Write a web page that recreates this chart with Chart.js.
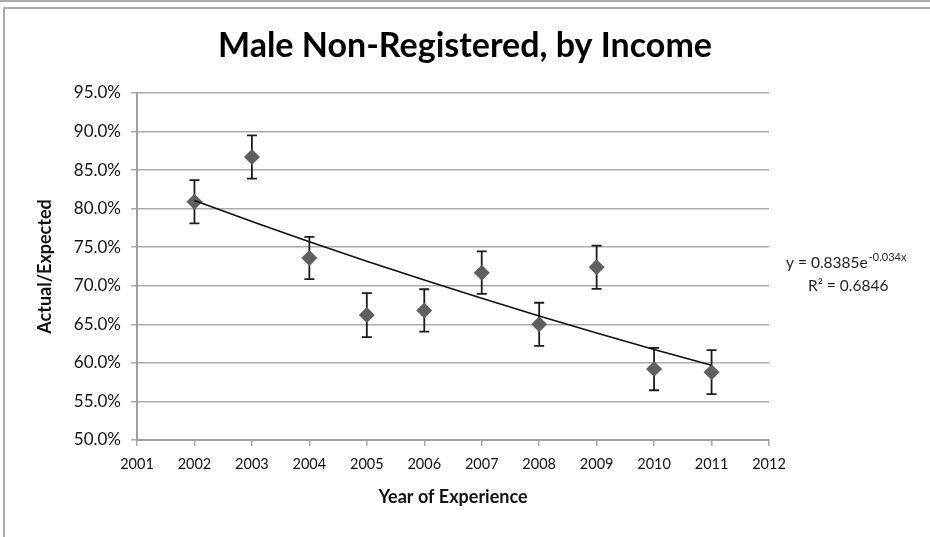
<!DOCTYPE html>
<html>
<head>
<meta charset="utf-8">
<script src="https://cdn.jsdelivr.net/npm/chart.js@4/dist/chart.umd.min.js"></script>
<style>
  html, body { margin: 0; padding: 0; background: #fff; width: 930px; height: 537px; overflow: hidden; }
  #wrap { position: relative; width: 930px; height: 537px; }
  #c { position: absolute; left: 0; top: 0; }
  .rule-top { position: absolute; left: 0; top: 0; width: 930px; height: 2px; background: #a9a9a9; }
  .frame { position: absolute; left: 3px; top: 7px; width: 940px; height: 540px;
           border-top: 2px solid #a9a9a9; border-left: 2px solid #a9a9a9; box-sizing: border-box; }
</style>
</head>
<body>
<div id="wrap">
  <canvas id="c" width="930" height="537"></canvas>
  <div class="rule-top"></div>
  <div class="frame"></div>
</div>
<script>
// Experience years and actual/expected ratios
const years = [2002, 2003, 2004, 2005, 2006, 2007, 2008, 2009, 2010, 2011];
const ratios = [0.809, 0.867, 0.736, 0.662, 0.668, 0.717, 0.650, 0.724, 0.592, 0.588];
// Half-width of each error bar (same units as ratios)
const errors = [0.028, 0.028, 0.0275, 0.0285, 0.0275, 0.0275, 0.028, 0.028, 0.0275, 0.0285];

// Exponential trendline y = a * e^(b * n), n = 1..10
const TREND_A = 0.8385;
const TREND_B = -0.034;
const TREND_R2 = 0.6846;

const xTickRange = [2001, 2012];
const yTickRange = [0.50, 0.95];
const yTickStep = 0.05;

const trendPoints = years.map((yr, i) => ({ x: yr, y: TREND_A * Math.exp(TREND_B * (i + 1)) }));
const points = years.map((yr, i) => ({ x: yr, y: ratios[i] }));

const FONT = 'Lato';

// Vertical error bars with caps, drawn beneath the markers
const errorBars = {
  id: 'errorBars',
  beforeDatasetsDraw(chart) {
    const { ctx, scales: { x, y } } = chart;
    ctx.save();
    ctx.strokeStyle = '#1c1c1c';
    ctx.lineWidth = 1.8;
    const cap = 5;
    years.forEach((yr, i) => {
      const px = x.getPixelForValue(yr);
      const top = y.getPixelForValue(ratios[i] + errors[i]);
      const bot = y.getPixelForValue(ratios[i] - errors[i]);
      ctx.beginPath();
      ctx.moveTo(px, top); ctx.lineTo(px, bot);
      ctx.moveTo(px - cap, top); ctx.lineTo(px + cap, top);
      ctx.moveTo(px - cap, bot); ctx.lineTo(px + cap, bot);
      ctx.stroke();
    });
    ctx.restore();
  }
};

// Trendline equation and R-squared to the right of the plot
const trendLabel = {
  id: 'trendLabel',
  afterDraw(chart) {
    const { ctx, chartArea } = chart;
    ctx.save();
    ctx.fillStyle = '#1f1f1f';
    ctx.textBaseline = 'alphabetic';
    ctx.textAlign = 'left';
    const x0 = chartArea.right + 17;
    const main = 'y = ' + TREND_A + 'e';
    ctx.font = '15.5px ' + FONT;
    ctx.fillText(main, x0, 268);
    const w = ctx.measureText(main).width;
    ctx.font = '11px ' + FONT;
    ctx.fillText(TREND_B.toFixed(3) + 'x', x0 + w + 1, 261);
    ctx.font = '15.5px ' + FONT;
    ctx.fillText('R\u00B2 = ' + TREND_R2, x0 + 22, 291);
    ctx.restore();
  }
};

function build() {
  new Chart(document.getElementById('c'), {
    type: 'scatter',
    data: {
      datasets: [
        {
          label: 'Trend',
          type: 'line',
          data: trendPoints,
          borderColor: '#111',
          borderWidth: 1.6,
          pointRadius: 0,
          fill: false,
          tension: 0,
          order: 0
        },
        {
          label: 'Actual/Expected',
          data: points,
          pointStyle: 'rectRot',
          pointRadius: 8,
          backgroundColor: '#5f5f5f',
          borderColor: '#5f5f5f',
          borderWidth: 0,
          order: 1
        }
      ]
    },
    options: {
      responsive: false,
      animation: false,
      layout: { padding: 0 },
      plugins: {
        legend: { display: false },
        tooltip: { enabled: false },
        title: {
          display: true,
          text: 'Male Non-Registered, by Income',
          color: '#000',
          font: { family: FONT, size: 34, weight: 'bold' },
          padding: { top: 26, bottom: 26.2 }
        }
      },
      scales: {
        x: {
          type: 'linear',
          min: xTickRange[0],
          max: xTickRange[1],
          ticks: {
            stepSize: 1,
            color: '#111',
            font: { family: FONT, size: 14.5 },
            padding: 10,
            maxRotation: 0,
            callback: v => String(v)
          },
          grid: { drawOnChartArea: false, drawTicks: true, tickLength: 6, color: '#a6a6a6', lineWidth: 1.5 },
          border: { color: '#a0a0a0', width: 2 },
          title: {
            display: true,
            text: 'Year of Experience',
            color: '#111',
            font: { family: FONT, size: 18, weight: 'bold' },
            padding: { bottom: 29 }
          },
          afterFit(s) { s.height = 97; }
        },
        y: {
          type: 'linear',
          position: 'left',
          min: yTickRange[0],
          max: yTickRange[1],
          ticks: {
            stepSize: yTickStep,
            color: '#111',
            font: { family: FONT, size: 17 },
            padding: 10,
            callback: v => (v * 100).toFixed(1) + '%'
          },
          grid: { color: '#ababab', lineWidth: 1.5, tickLength: 6 },
          border: { color: '#a0a0a0', width: 2 },
          title: {
            display: true,
            text: 'Actual/Expected',
            color: '#111',
            font: { family: FONT, size: 18, weight: 'bold' },
            padding: { top: 34 }
          },
          afterFit(s) { s.width = 137; }
        },
        side: {
          type: 'linear',
          position: 'right',
          display: true,
          ticks: { display: false },
          grid: { display: false },
          border: { display: false },
          afterFit(s) { s.width = 161; }
        }
      }
    },
    plugins: [errorBars, trendLabel]
  });
}

Promise.all([
  document.fonts.load('bold 34px Lato'),
  document.fonts.load('16px Lato')
]).then(build, build);
</script>
</body>
</html>
